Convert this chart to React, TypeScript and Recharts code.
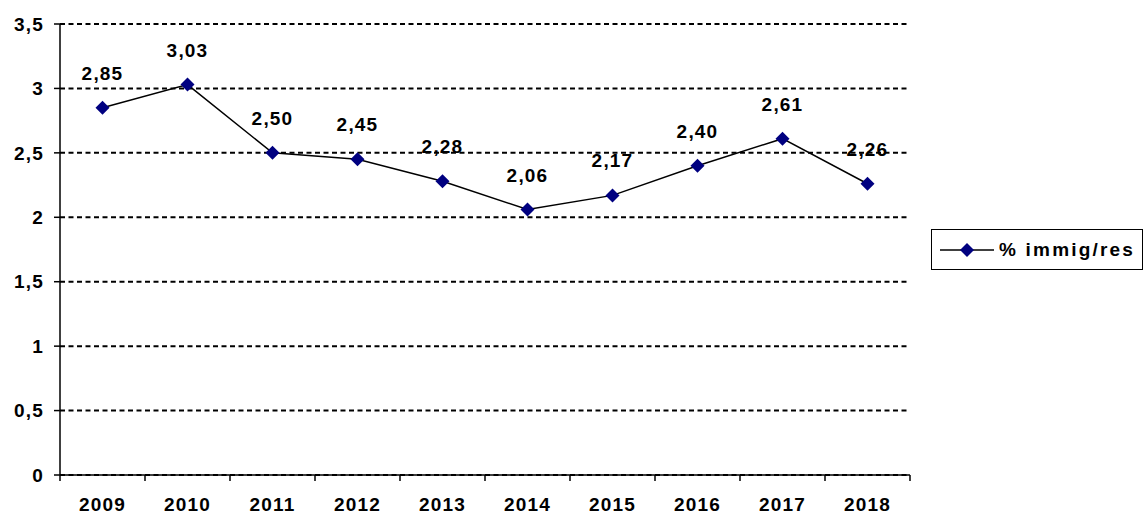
import React from 'react';
import { LineChart, Line, XAxis, YAxis, CartesianGrid, Legend, LabelList } from 'recharts';

const years = ['2009', '2010', '2011', '2012', '2013', '2014', '2015', '2016', '2017', '2018'];
const immigRes = [2.85, 3.03, 2.5, 2.45, 2.28, 2.06, 2.17, 2.4, 2.61, 2.26];
const yTicks = [0, 0.5, 1, 1.5, 2, 2.5, 3, 3.5];
const seriesName = '% immig/res';

const data = years.map((year, i) => ({ year, value: immigRes[i] }));

const font = '"Liberation Sans", Arial, sans-serif';
const navy = '#000080';
const textStyle = { fill: '#000', fontFamily: font, fontWeight: 'bold', fontSize: 19, letterSpacing: 1.2 };

const fmtLabel = (v: number) => v.toFixed(2).replace('.', ',');
const fmtTick = (v: number) => String(v).replace('.', ',');

const Diamond = (props: any) => {
  const { cx, cy } = props;
  if (cx == null || cy == null) return null;
  return (
    <polygon
      points={`${cx},${cy - 7} ${cx + 7},${cy} ${cx},${cy + 7} ${cx - 7},${cy}`}
      fill={navy}
    />
  );
};

const ValueLabel = (props: any) => {
  const { x, y, value } = props;
  return (
    <text x={x} y={y - 28} textAnchor="middle" {...textStyle}>
      {fmtLabel(value)}
    </text>
  );
};

// year label plus tick marks on the category boundaries (Excel style)
const YearTick = (props: any) => {
  const { x, y, payload, index, visibleTicksCount } = props;
  const half = payload?.offset ?? 0;
  const last = index === (visibleTicksCount ?? years.length) - 1;
  return (
    <g>
      <line x1={x - half} y1={y} x2={x - half} y2={y + 6} stroke="#000" strokeWidth={1.5} />
      {last && <line x1={x + half} y1={y} x2={x + half} y2={y + 6} stroke="#000" strokeWidth={1.5} />}
      <text x={x} y={y + 23} dy="0.71em" textAnchor="middle" {...textStyle}>
        {payload.value}
      </text>
    </g>
  );
};

const LegendBox = () => (
  <div
    style={{
      border: '1px solid #000',
      width: 212,
      height: 41,
      boxSizing: 'border-box',
      display: 'flex',
      alignItems: 'center',
      background: '#fff',
    }}
  >
    <svg width={58} height={16} style={{ marginLeft: 6 }}>
      <line x1={2} y1={8} x2={56} y2={8} stroke="#000" strokeWidth={1.5} />
      <polygon points="29,1 36,8 29,15 22,8" fill={navy} />
    </svg>
    <span style={{ marginLeft: 3, fontFamily: font, fontWeight: 'bold', fontSize: 19, letterSpacing: 2.2, color: '#000', whiteSpace: 'nowrap' }}>
      {seriesName}
    </span>
  </div>
);

export default function App() {
  return (
    <div style={{ width: 1144, height: 517, background: '#fff' }}>
      <style>{`body{margin:0;}`}</style>
      <LineChart width={1144} height={517} data={data} margin={{ top: 24, right: 234, bottom: 0, left: 0 }}>
        <CartesianGrid
          vertical={false}
          stroke="#000"
          strokeWidth={2}
          strokeDasharray="5 3.5"
        />
        <XAxis
          dataKey="year"
          scale="band"
          height={42}
          stroke="#000"
          strokeWidth={1.5}
          tickLine={false}
          tickSize={0}
          tickMargin={0}
          interval={0}
          tick={<YearTick />}
        />
        <YAxis
          width={60}
          domain={[0, 3.5]}
          ticks={yTicks}
          tickSize={6}
          tickMargin={10}
          tickFormatter={fmtTick}
          stroke="#000"
          strokeWidth={1.5}
          tick={textStyle}
        />
        <Legend
          layout="horizontal"
          verticalAlign="middle"
          align="center"
          content={<LegendBox />}
          wrapperStyle={{ left: 931, top: 229, width: 212 }}
        />
        <Line
          type="linear"
          dataKey="value"
          name={seriesName}
          stroke="#000"
          strokeWidth={1.5}
          dot={<Diamond />}
          activeDot={false}
          isAnimationActive={false}
        >
          <LabelList dataKey="value" content={<ValueLabel />} />
        </Line>
      </LineChart>
    </div>
  );
}
